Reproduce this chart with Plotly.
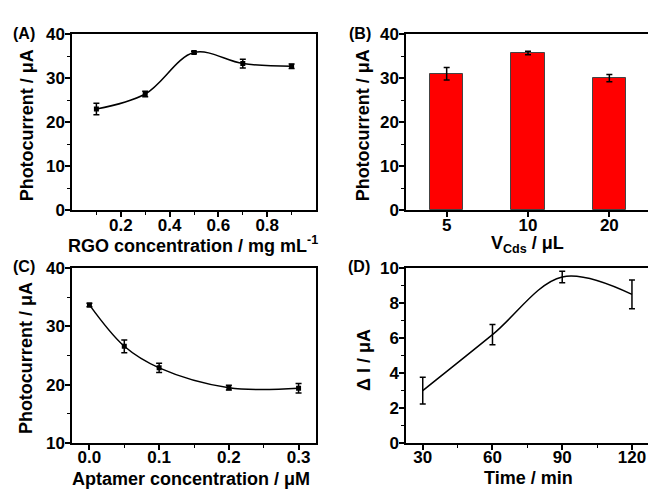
import plotly.graph_objects as go

# ---- data ----
rgo_conc = [0.1, 0.3, 0.5, 0.7, 0.9]
rgo_current = [23.0, 26.4, 35.8, 33.3, 32.7]
rgo_err = [1.3, 0.6, 0.3, 1.0, 0.5]

vcds_labels = ["5", "10", "20"]
vcds_current = [31.0, 35.7, 30.0]
vcds_err = [1.4, 0.4, 0.8]

apt_conc = [0.0, 0.05, 0.1, 0.2, 0.3]
apt_current = [33.7, 26.6, 22.9, 19.5, 19.4]
apt_err = [0.3, 1.1, 0.8, 0.4, 0.8]

time_min = [30, 60, 90, 120]
delta_i = [3.0, 6.2, 9.5, 8.5]
delta_err = [0.76, 0.58, 0.33, 0.82]

FONT = "Liberation Sans, Arial, sans-serif"
W, H = 648, 497

def px(x):
    return x / W

def py(y):
    return 1 - y / H

fig = go.Figure()

line_style = dict(color="black", width=1.5, shape="spline", smoothing=1.0)
err_style = dict(type="data", color="black", thickness=1.5, width=3)
marker_style = dict(symbol="square", size=5, color="black")

fig.add_trace(go.Scatter(x=rgo_conc, y=rgo_current, mode="lines+markers",
                         line=line_style, marker=marker_style,
                         error_y=dict(array=rgo_err, **err_style),
                         xaxis="x", yaxis="y", showlegend=False))

fig.add_trace(go.Bar(x=[1, 2, 3], y=vcds_current, width=0.41,
                     marker=dict(color="#FF0000", line=dict(color="#444444", width=1)),
                     error_y=dict(array=vcds_err, **err_style),
                     xaxis="x2", yaxis="y2", showlegend=False))

fig.add_trace(go.Scatter(x=apt_conc, y=apt_current, mode="lines+markers",
                         line=line_style, marker=marker_style,
                         error_y=dict(array=apt_err, **err_style),
                         xaxis="x3", yaxis="y3", showlegend=False))

fig.add_trace(go.Scatter(x=time_min, y=delta_i, mode="lines",
                         line=line_style,
                         error_y=dict(array=delta_err, **err_style),
                         xaxis="x4", yaxis="y4", showlegend=False))

tickfont = dict(family=FONT, size=17, color="black", weight="bold")

def axis(**kw):
    d = dict(showline=True, linecolor="black", linewidth=1.5, mirror=True,
             ticks="outside", ticklen=5, tickwidth=1.5, tickcolor="black",
             showgrid=False, zeroline=False, tickfont=tickfont,
             minor=dict(ticks="outside", ticklen=3, tickwidth=1.2, tickcolor="black"))
    minor = kw.pop("minor", None)
    d.update(kw)
    if minor:
        d["minor"].update(minor)
    return d

def xaxis(**kw):
    return axis(ticklabelstandoff=-7, **kw)

def yaxis(**kw):
    return axis(ticklabelstandoff=-3, **kw)

top_dom = [py(209.5), py(26)]
bot_dom = [py(451.3), py(269.5)]
left_dom = [px(72), px(316)]
right_dom = [px(406), 1.0]

fig.update_layout(
    width=W, height=H, margin=dict(l=0, r=0, t=0, b=0),
    paper_bgcolor="white", plot_bgcolor="white",
    bargap=0,
    xaxis=xaxis(domain=left_dom, range=[0, 1.0], tickvals=[0.2, 0.4, 0.6, 0.8],
                ticktext=["0.2", "0.4", "0.6", "0.8"], anchor="y",
                minor=dict(tickvals=[0.1, 0.3, 0.5, 0.7, 0.9])),
    yaxis=yaxis(domain=top_dom, range=[0, 40], tickvals=[0, 10, 20, 30, 40], anchor="x",
                minor=dict(tickvals=[5, 15, 25, 35])),
    xaxis2=xaxis(domain=right_dom, range=[0.5, 3.475], tickvals=[1, 2, 3],
                 ticktext=vcds_labels, anchor="y2", minor=dict(ticks="")),
    yaxis2=yaxis(domain=top_dom, range=[0, 40], tickvals=[0, 10, 20, 30, 40], anchor="x2",
                 mirror=False, minor=dict(tickvals=[5, 15, 25, 35])),
    xaxis3=xaxis(domain=left_dom, range=[-0.025, 0.325], tickvals=[0.0, 0.1, 0.2, 0.3],
                 ticktext=["0.0", "0.1", "0.2", "0.3"], anchor="y3",
                 minor=dict(tickvals=[0.05, 0.15, 0.25])),
    yaxis3=yaxis(domain=bot_dom, range=[10, 40], tickvals=[10, 20, 30, 40], anchor="x3",
                 minor=dict(tickvals=[15, 25, 35])),
    xaxis4=xaxis(domain=right_dom, range=[22.8, 126.9], tickvals=[30, 60, 90, 120], anchor="y4",
                 minor=dict(tickvals=[45, 75, 105])),
    yaxis4=yaxis(domain=bot_dom, range=[0, 10], tickvals=[0, 2, 4, 6, 8, 10], anchor="x4",
                 mirror=False, minor=dict(tickvals=[1, 3, 5, 7, 9])),
)

tfont = dict(family=FONT, size=18, color="black", weight="bold")
lfont = dict(family=FONT, size=16, color="black", weight="bold")

def ann(text, x, y, angle=0, font=tfont, xanchor="center"):
    fig.add_annotation(text=text, x=px(x), y=py(y), xref="paper", yref="paper",
                       showarrow=False, textangle=angle, font=font,
                       xanchor=xanchor, yanchor="middle")

# axis titles
ann("RGO concentration / mg mL<sup>-1</sup>", 193, 245)
ann("Photocurrent / μA", 27, 121, angle=-90)
ann("V<sub>Cds</sub> / μL", 527, 245)
ann("Photocurrent / μA", 363, 121, angle=-90)
ann("Aptamer concentration / μM", 191, 489)
ann("Photocurrent / μA", 26, 363, angle=-90)
ann("Time / min", 528, 488)
ann("Δ I / μA", 364, 365, angle=-90)

# panel labels
ann("(A)", 11, 25, font=lfont, xanchor="left")
ann("(B)", 347, 25, font=lfont, xanchor="left")
ann("(C)", 11, 268, font=lfont, xanchor="left")
ann("(D)", 346, 268, font=lfont, xanchor="left")

fig.write_html(
    "out.html",
    config={"displayModeBar": False},
    post_script="document.body.style.margin='0';document.body.style.overflow='hidden';",
)
